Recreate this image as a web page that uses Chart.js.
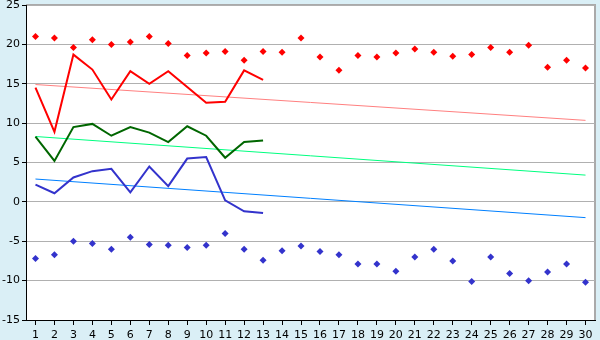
<!DOCTYPE html>
<html>
<head>
<meta charset="utf-8">
<script src="https://cdn.jsdelivr.net/npm/chart.js@4/dist/chart.umd.min.js"></script>
<style>
  html, body { margin: 0; padding: 0; background: #daeff6; }
  #wrap { width: 600px; height: 340px; position: relative; }
</style>
</head>
<body>
<div id="wrap"><canvas id="tempChart"></canvas></div>
<script>
// days of the month
const days = Array.from({ length: 30 }, (_, i) => String(i + 1));

// daily max / min (markers)
const maxTemps = [21.0, 20.8, 19.6, 20.6, 20.0, 20.3, 21.0, 20.1, 18.6, 18.9,
                  19.1, 18.0, 19.1, 19.0, 20.8, 18.4, 16.7, 18.6, 18.4, 18.9,
                  19.4, 19.0, 18.5, 18.7, 19.6, 19.0, 19.9, 17.1, 18.0, 17.0];
const minTemps = [-7.2, -6.7, -5.0, -5.3, -6.0, -4.5, -5.4, -5.5, -5.8, -5.5,
                  -4.0, -6.0, -7.4, -6.2, -5.6, -6.3, -6.7, -7.9, -7.9, -8.8,
                  -7.0, -6.0, -7.5, -10.1, -7.0, -9.1, -10.0, -8.9, -7.9, -10.2];

// measured this month (days 1-13)
const highLine = [14.5, 8.9, 18.7, 16.8, 13.0, 16.6, 15.0, 16.6, 14.6, 12.6, 12.7, 16.7, 15.5];
const meanLine = [8.3, 5.2, 9.5, 9.9, 8.4, 9.5, 8.8, 7.6, 9.6, 8.4, 5.6, 7.6, 7.8];
const lowLine  = [2.2, 1.1, 3.1, 3.9, 4.2, 1.2, 4.5, 2.0, 5.5, 5.7, 0.2, -1.2, -1.4];

// trend lines: value on day 1 and day 30
const highTrend = [14.9, 10.35];
const meanTrend = [8.3, 3.4];
const lowTrend  = [2.9, -2.0];

const yTicks = [-15, -10, -5, 0, 5, 10, 15, 20, 25];

function endpoints(pair) {
    const arr = new Array(days.length).fill(null);
    arr[0] = pair[0];
    arr[days.length - 1] = pair[1];
    return arr;
}

const plotBg = {
    id: 'plotBg',
    beforeDraw(chart) {
        const { ctx, chartArea: a } = chart;
        ctx.save();
        ctx.fillStyle = '#ffffff';
        ctx.fillRect(a.left, a.top, a.right - a.left, a.bottom - a.top);
        ctx.strokeStyle = '#aaaaaa';
        ctx.lineWidth = 2;
        ctx.beginPath();
        ctx.moveTo(a.left, a.top);
        ctx.lineTo(a.right, a.top);
        ctx.lineTo(a.right, a.bottom);
        ctx.stroke();
        ctx.restore();
    }
};

const font = { family: 'DejaVu Sans', size: 11 };

new Chart(document.getElementById('tempChart'), {
    type: 'line',
    data: {
        labels: days,
        datasets: [
            { data: highLine, borderColor: '#ff0000', borderWidth: 2, pointRadius: 0, tension: 0 },
            { data: meanLine, borderColor: '#006600', borderWidth: 2, pointRadius: 0, tension: 0 },
            { data: lowLine, borderColor: '#3333cc', borderWidth: 2, pointRadius: 0, tension: 0 },
            { data: endpoints(highTrend), borderColor: '#ff8080', borderWidth: 1, pointRadius: 0, spanGaps: true },
            { data: endpoints(meanTrend), borderColor: '#00ff80', borderWidth: 1, pointRadius: 0, spanGaps: true },
            { data: endpoints(lowTrend), borderColor: '#0080ff', borderWidth: 1, pointRadius: 0, spanGaps: true },
            { data: maxTemps, showLine: false, pointStyle: 'rectRot', pointRadius: 3.5,
              pointBackgroundColor: '#ff0000', pointBorderColor: '#ff0000', pointBorderWidth: 0 },
            { data: minTemps, showLine: false, pointStyle: 'rectRot', pointRadius: 3.5,
              pointBackgroundColor: '#3333cc', pointBorderColor: '#3333cc', pointBorderWidth: 0 }
        ]
    },
    options: {
        responsive: true,
        maintainAspectRatio: false,
        animation: false,
        layout: { padding: { top: 5, right: 5, left: 0, bottom: 0 } },
        plugins: { legend: { display: false }, tooltip: { enabled: false } },
        scales: {
            x: {
                offset: true,
                grid: { drawOnChartArea: false, tickLength: 5, color: '#000000', offset: false },
                border: { color: '#000000' },
                ticks: { color: '#000000', font: font, maxRotation: 0, autoSkip: false, padding: 4 },
                afterFit(scale) { scale.height = 20; }
            },
            y: {
                min: -15,
                max: 25,
                afterBuildTicks(scale) { scale.ticks = yTicks.map(v => ({ value: v })); },
                grid: { color: '#b0b0b0', tickLength: 4, tickColor: '#000000' },
                border: { color: '#000000' },
                ticks: { color: '#000000', font: font, padding: 2 },
                afterFit(scale) { scale.width = 26; scale.paddingTop = 0; scale.paddingBottom = 0; }
            }
        }
    },
    plugins: [plotBg]
});
</script>
</body>
</html>
